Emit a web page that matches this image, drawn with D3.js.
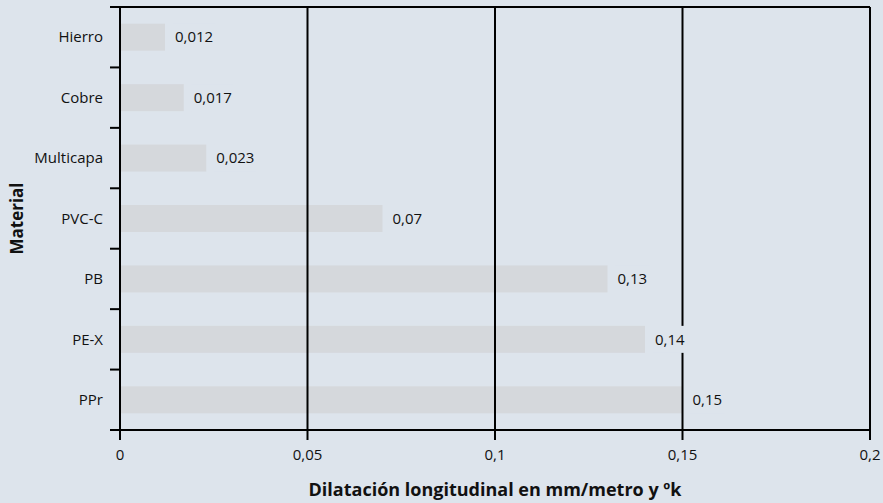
<!DOCTYPE html>
<html>
<head>
<meta charset="utf-8">
<script src="https://cdn.jsdelivr.net/npm/d3@7"></script>
<style>
  body { margin:0; background:#dde4ec; }
  text { font-family: "Open Sans", sans-serif; fill:#111; }
</style>
</head>
<body>
<div id="chart"></div>
<script>
var categories = ['Hierro','Cobre','Multicapa','PVC-C','PB','PE-X','PPr'];
var values = [0.012, 0.017, 0.023, 0.07, 0.13, 0.14, 0.15];
var valueLabels = ['0,012','0,017','0,023','0,07','0,13','0,14','0,15'];
var xTicks = [0, 0.05, 0.1, 0.15, 0.2];
var xTickLabels = ['0','0,05','0,1','0,15','0,2'];

var W = 883, H = 503;
var margin = {top:7, right:13, bottom:73, left:120};
var width = W - margin.left - margin.right,
    height = H - margin.top - margin.bottom;

var svg = d3.select('#chart').append('svg')
    .attr('width', W).attr('height', H);

svg.append('rect').attr('width', W).attr('height', H).attr('fill', '#dde4ec');

var g = svg.append('g')
    .attr('transform', 'translate(' + margin.left + ',' + margin.top + ')');

var xScale = d3.scaleLinear().domain([0, 0.2]).range([0, width]);
var yScale = d3.scaleBand().domain(categories).range([0, height]);
var barH = 27;

// bars
g.selectAll('rect.bar').data(values).enter()
    .append('rect').attr('class','bar')
    .attr('x', 0)
    .attr('y', function(d,i){ return yScale(categories[i]) + (yScale.bandwidth() - barH)/2; })
    .attr('width', function(d){ return xScale(d); })
    .attr('height', barH)
    .attr('fill', '#d5d8dc');

// gridlines
g.selectAll('line.grid').data(xTicks.slice(1)).enter()
    .append('line').attr('class','grid')
    .attr('x1', function(d){ return xScale(d); })
    .attr('x2', function(d){ return xScale(d); })
    .attr('y1', 0).attr('y2', height)
    .attr('stroke', '#000').attr('stroke-width', 2);

// top border
g.append('line').attr('x1', -10).attr('x2', width).attr('y1', 0).attr('y2', 0)
    .attr('stroke', '#000').attr('stroke-width', 2);

// value labels with background boxes
var vl = g.selectAll('g.val').data(values).enter()
    .append('g').attr('class','val')
    .attr('transform', function(d,i){
        return 'translate(' + (xScale(d) + 10) + ',' + (yScale(categories[i]) + yScale.bandwidth()/2) + ')';
    });
var vlBox = vl.append('rect').attr('fill', '#dde4ec');
vl.append('text')
    .attr('dy', '0.35em')
    .style('font-size', '15px')
    .text(function(d,i){ return valueLabels[i]; });
vlBox.each(function(){
    var bb = this.parentNode.querySelector('text').getBBox();
    d3.select(this)
        .attr('x', bb.x - 2).attr('width', bb.width + 4)
        .attr('y', -barH/2).attr('height', barH);
});

// y axis
g.append('line').attr('x1', 0).attr('x2', 0).attr('y1', 0).attr('y2', height + 10)
    .attr('stroke', '#000').attr('stroke-width', 2);
g.selectAll('line.ytick').data(categories.slice(1)).enter()
    .append('line').attr('class','ytick')
    .attr('x1', -10).attr('x2', 0)
    .attr('y1', function(d){ return yScale(d); })
    .attr('y2', function(d){ return yScale(d); })
    .attr('stroke', '#000').attr('stroke-width', 2);
g.selectAll('text.ylab').data(categories).enter()
    .append('text').attr('class','ylab')
    .attr('x', -17)
    .attr('y', function(d){ return yScale(d) + yScale.bandwidth()/2; })
    .attr('dy', '0.35em')
    .attr('text-anchor', 'end')
    .style('font-size', '15px')
    .text(function(d){ return d; });

// x axis
g.append('line').attr('x1', -10).attr('x2', width).attr('y1', height).attr('y2', height)
    .attr('stroke', '#000').attr('stroke-width', 2);
g.selectAll('line.xtick').data(xTicks).enter()
    .append('line').attr('class','xtick')
    .attr('x1', function(d){ return xScale(d); })
    .attr('x2', function(d){ return xScale(d); })
    .attr('y1', height).attr('y2', height + 10)
    .attr('stroke', '#000').attr('stroke-width', 2);
g.selectAll('text.xlab').data(xTicks).enter()
    .append('text').attr('class','xlab')
    .attr('x', function(d){ return xScale(d); })
    .attr('y', height + 30)
    .attr('text-anchor', 'middle')
    .style('font-size', '15px')
    .text(function(d,i){ return xTickLabels[i]; });

// right border
g.append('line').attr('x1', width).attr('x2', width).attr('y1', 0).attr('y2', height + 10)
    .attr('stroke', '#000').attr('stroke-width', 2);

// axis titles
svg.append('text')
    .attr('x', margin.left + xScale(0.1))
    .attr('y', 496)
    .attr('text-anchor', 'middle')
    .style('font-size', '18px').style('font-weight', 'bold')
    .text('Dilatación longitudinal en mm/metro y ºk');

svg.append('text')
    .attr('transform', 'translate(23,' + (margin.top + height/2) + ') rotate(-90)')
    .attr('text-anchor', 'middle')
    .style('font-size', '17px').style('font-weight', 'bold')
    .text('Material');
</script>
</body>
</html>
